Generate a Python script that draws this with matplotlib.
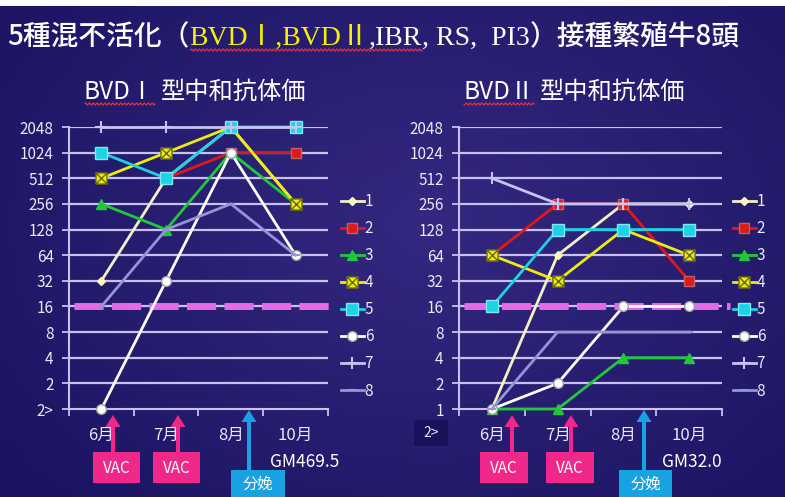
import numpy as np
import matplotlib
matplotlib.use('Agg')
import matplotlib.pyplot as plt
from matplotlib.patches import FancyArrow, Rectangle
from matplotlib.path import Path

plt.rcParams['font.family'] = ['Noto Sans CJK JP', 'DejaVu Sans']

# データ
months = ['6月', '7月', '8月', '10月']
ytick_vals = [1, 2, 4, 8, 16, 32, 64, 128, 256, 512, 1024, 2048]
ytick_left = ['2>', '2', '4', '8', '16', '32', '64', '128', '256', '512', '1024', '2048']
ytick_right = ['1', '2', '4', '8', '16', '32', '64', '128', '256', '512', '1024', '2048']
cow_ids = ['1', '2', '3', '4', '5', '6', '7', '8']
nan = np.nan
# BVD I 型 (牛1-8)
bvd1_titers = [
    [32, 512, 2048, 256],
    [nan, 512, 1024, 1024],
    [256, 128, 1024, 256],
    [512, 1024, 2048, 256],
    [1024, 512, 2048, 2048],
    [1, 32, 1024, 64],
    [2048, 2048, 2048, 2048],
    [16, 128, 256, 64],
]
# BVD II 型 (牛1-8)
bvd2_titers = [
    [1, 64, 256, 256],
    [64, 256, 256, 32],
    [1, 1, 4, 4],
    [64, 32, 128, 64],
    [16, 128, 128, 128],
    [1, 2, 16, 16],
    [512, 256, 256, 256],
    [1, 8, 8, 8],
]
cutoff = 16
gm_left = 'GM469.5'
gm_right = 'GM32.0'

# 四角に×のマーカー
boxx = Path([(-1, -1), (1, -1), (1, 1), (-1, 1), (-1, -1),
             (-1, -1), (1, 1), (-1, 1), (1, -1)],
            [Path.MOVETO, Path.LINETO, Path.LINETO, Path.LINETO, Path.CLOSEPOLY,
             Path.MOVETO, Path.LINETO, Path.MOVETO, Path.LINETO])

# 系列スタイル
line_cols = ['#f4efc4', '#e01818', '#22c83a', '#ecec10', '#1ed2e6', '#ffffff', '#c4c4ee', '#9494d8']
markers = ['D', 's', '^', boxx, 's', 'o', '+', '_']
msizes = [4, 7, 7, 8, 8, 7, 9, 6]
mfc = ['#fff8c0', '#e01818', '#22c83a', '#ecec10', '#1ed2e6', '#ffffff', '#c4c4ee', '#9494d8']
mec = ['#fff8c0', '#c06060', '#22c83a', '#6a6a18', '#80e8f0', '#a0a0a0', '#c4c4ee', '#9494d8']
mews = [1, 1, 1, 1, 1, 1, 1.5, 1.5]

W, H = 785, 497
fig = plt.figure(figsize=(W / 100, H / 100), dpi=100)

# 背景
bg = fig.add_axes([0, 0, 1, 1], zorder=-10)
yy, xx = np.mgrid[0:1:100j, 0:1:160j]
r = np.sqrt(((xx - 0.55) / 0.7) ** 2 + ((yy - 0.45) / 0.8) ** 2)
t = np.clip(1 - r, 0, 1)
c0 = np.array([0x1a, 0x14, 0x62]) / 255
c1 = np.array([0x34, 0x28, 0x80]) / 255
img = c0 + (c1 - c0) * t[..., None]
bg.imshow(img, aspect='auto', extent=[0, 1, 0, 1])
bg.axis('off')

grid_col = '#c8c0ee'
txt_col = '#e8e8f8'


def draw_chart(rect, titers, ylabels, leg_xy):
    ax = fig.add_axes(rect)
    ax.patch.set_alpha(0)
    x = np.arange(len(months))
    ax.set_yscale('log', base=2)
    ax.set_ylim(1, 2048)
    ax.set_xlim(-0.5, len(months) - 0.5)
    ax.set_yticks(ytick_vals)
    ax.set_yticklabels(ylabels)
    ax.yaxis.set_minor_locator(plt.NullLocator())
    ax.set_xticks(x)
    ax.set_xticklabels(months)
    ax.set_xticks(np.arange(-0.5, len(months)), minor=True)
    ax.tick_params(axis='x', which='major', length=0, pad=13, labelsize=12, colors=txt_col)
    ax.tick_params(axis='x', which='minor', length=5, width=1.3, color=grid_col, direction='out')
    ax.tick_params(axis='y', length=5, width=1.3, color=grid_col, labelsize=11, labelcolor=txt_col, pad=6)
    for v in ytick_vals[1:]:
        ax.axhline(v, color=grid_col, lw=1.6, zorder=1)
    for s in ['top', 'right']:
        ax.spines[s].set_visible(False)
    for s in ['left', 'bottom']:
        ax.spines[s].set_color(grid_col)
        ax.spines[s].set_linewidth(1.5)
    ax.axhline(cutoff, xmin=0.02, xmax=1.03, color='#e46ae6', lw=5,
               dashes=(4.2, 1.2), zorder=2, clip_on=False)
    handles = []
    for i, vals in enumerate(titers):
        h, = ax.plot(x, vals, color=line_cols[i], lw=2, marker=markers[i], ms=msizes[i],
                     mfc=mfc[i], mec=mec[i], mew=mews[i], zorder=3 + i, clip_on=False)
        handles.append(h)
    ax.legend(handles, cow_ids, loc='upper left', bbox_to_anchor=leg_xy,
              bbox_transform=fig.transFigure, frameon=False, fontsize=11,
              labelcolor=txt_col, handlelength=1.5, handletextpad=0.05,
              labelspacing=0.66, borderaxespad=0, borderpad=0)
    return ax


axL = draw_chart([69 / W, 1 - 409 / H, 259 / W, 282 / H], bvd1_titers, ytick_left,
                 (341 / W, 1 - 193 / H))
axR = draw_chart([459 / W, 1 - 409 / H, 263 / W, 282 / H], bvd2_titers, ytick_right,
                 (733 / W, 1 - 193 / H))

# 注釈用オーバーレイ (ピクセル座標)
ov = fig.add_axes([0, 0, 1, 1], zorder=10)
ov.set_xlim(0, W)
ov.set_ylim(H, 0)
ov.axis('off')
ov.patch.set_alpha(0)

# タイトル
serif = ['Liberation Serif', 'Noto Sans CJK JP']
tfs = 20
t1 = ov.text(7, 45, '5種混不活化（', color='white', fontsize=tfs, va='baseline',
             fontweight='medium')
t2 = ov.annotate('BVDⅠ,BVDⅡ', xy=(1, 0), xycoords=t1, va='bottom', color='#f8f000',
                 fontsize=tfs, family=serif)
t3 = ov.annotate(',IBR', xy=(1, 0), xycoords=t2, va='bottom', color='white',
                 fontsize=tfs, family=serif)
t4 = ov.annotate(', RS,  PI3', xy=(1, 0), xycoords=t3, va='bottom', color='white',
                 fontsize=tfs, family=serif)
t5 = ov.annotate('）接種繁殖牛8頭', xy=(1, 0), xycoords=t4, va='bottom', color='white',
                 fontsize=tfs, fontweight='medium')

# サブタイトル
sfs = 17.5
s1a = ov.text(84, 99, 'BVDⅠ', color='white', fontsize=sfs, va='baseline')
s1b = ov.annotate('型中和抗体価', xy=(1, 0), xycoords=s1a, va='bottom', color='white',
                  fontsize=sfs, xytext=(4, 0), textcoords='offset points')
s2a = ov.text(463, 99, 'BVDⅡ', color='white', fontsize=sfs, va='baseline')
s2b = ov.annotate('型中和抗体価', xy=(1, 0), xycoords=s2a, va='bottom', color='white',
                  fontsize=sfs, xytext=(4, 0), textcoords='offset points')

fig.canvas.draw()
inv = ov.transData.inverted()


def wavy(x0, x1, y):
    xs = np.linspace(x0, x1, int((x1 - x0) * 3))
    ov.plot(xs, y + 1.0 * np.sin(xs * 1.6), color='#e03040', lw=0.9)


for a, b in [(t2, t3), (s1a, s1a), (s2a, s2a)]:
    ba = a.get_window_extent()
    bb = b.get_window_extent()
    (xa, ya), (xb, yb) = inv.transform([(ba.x0, ba.y0), (bb.x1, bb.y0)])
    wavy(xa + 1, xb, ya - 1)

# VAC / 分娩 矢印


def arrow(x, y0, y1, col):
    ov.add_patch(FancyArrow(x, y0, 0, y1 - y0, width=4, head_width=15, head_length=12,
                            length_includes_head=True, color=col, lw=0))


def box(x0, y0, w, h, col, label, fs=11):
    ov.add_patch(Rectangle((x0, y0), w, h, color=col, lw=0))
    ov.text(x0 + w / 2, y0 + h / 2 + 1, label, color='white', fontsize=fs, ha='center', va='center')


pink = '#f0288a'
blue = '#18a2e2'
for xa, bx in [(113, 93), (178, 153)]:
    arrow(xa, 453, 415, pink)
    box(bx, 452, 47, 31, pink, 'VAC')
arrow(249, 471, 410, blue)
box(231, 470, 54, 27, blue, '分娩')
ov.text(270, 462, gm_left, color='white', fontsize=12.5, va='center')

for xa, bx in [(512, 480), (571, 546)]:
    arrow(xa, 453, 415, pink)
    box(bx, 452, 48, 31, pink, 'VAC')
arrow(644, 471, 410, blue)
box(619, 470, 53, 27, blue, '分娩')
ov.text(662, 462, gm_right, color='white', fontsize=12.5, va='center')

ov.add_patch(Rectangle((414, 420), 34, 26, color='#17125a', lw=0))
ov.text(431, 433, '2>', color=txt_col, fontsize=10, ha='center', va='center')

# 上端の白帯
ov.add_patch(Rectangle((0, 0), W, 6, color='white', lw=0))

fig.savefig('out.png', dpi=100)
